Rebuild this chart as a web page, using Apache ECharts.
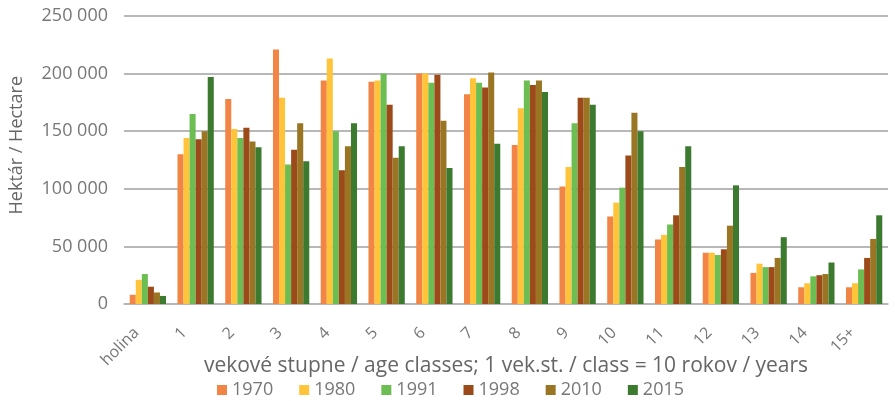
<!DOCTYPE html>
<html><head><meta charset="utf-8">
<script src="https://cdn.jsdelivr.net/npm/echarts@6/dist/echarts.min.js"></script>
<style>html,body{margin:0;padding:0;background:#fff}#c{width:895px;height:401px}</style>
</head><body><div id="c"></div>
<script>
const categories = ['holina','1','2','3','4','5','6','7','8','9','10','11','12','13','14','15+'];
const yTicks = [0, 50000, 100000, 150000, 200000, 250000];
const s1970 = [8000,130000,178000,221000,194000,193000,200000,182000,138000,102000,76000,56000,44500,27000,14500,14500];
const s1980 = [21000,144000,152000,179000,213000,194000,200000,196000,170000,119000,88000,60000,44500,35000,18000,18000];
const s1991 = [26000,165000,144000,121000,150000,200000,192000,192000,194000,157000,101000,69000,42500,32000,24000,30000];
const s1998 = [15000,143000,153000,134000,116000,173000,199000,188000,190000,179000,129000,77000,47500,32000,25000,40000];
const s2010 = [10000,150000,141000,157000,137000,127000,159000,201000,194000,179000,166000,119000,68000,40000,26000,56500];
const s2015 = [7000,197000,136000,124000,157000,137000,118000,139000,184000,173000,150000,137000,103000,58000,36000,77000];
const seriesNames = ['1970','1980','1991','1998','2010','2015'];
const seriesData = [s1970,s1980,s1991,s1998,s2010,s2015];
const colors = ['#F28445','#FFC43A','#6DBE52','#9C4A1A','#9A7624','#3B7A2F'];

const chart = echarts.init(document.getElementById('c'));
chart.setOption({
  animation:false,
  color: colors,
  grid:{left:124,right:7,top:16,bottom:97},
  legend:{
    data: seriesNames, top: 376, left: 212, itemWidth:10, itemHeight:10, itemGap:26, itemTextGap:10,
    icon:'rect', textStyle:{fontSize:18,color:'#777',fontFamily:'Open Sans'}
  },
  graphic:[{
    type:'text', left:8, top:76, rotation:Math.PI/2,
    style:{text:'Hektár / Hectare', fontSize:18, fill:'#666', fontFamily:'Open Sans'}
  }],
  xAxis:{
    type:'category', data:categories,
    axisLine:{lineStyle:{color:'#b5b5b5',width:1.5}},
    axisTick:{show:false},
    axisLabel:{rotate:45,fontSize:16,color:'#777',fontFamily:'Open Sans',margin:15,interval:0,padding:[0,16,0,0]},
    name:'vekové stupne / age classes; 1 vek.st. / class = 10 rokov / years',
    nameLocation:'middle', nameGap:52, nameMoveOverlap:false,
    nameTextStyle:{fontSize:21,color:'#666',fontFamily:'Open Sans'}
  },
  yAxis:{
    type:'value', min:yTicks[0], max:yTicks[yTicks.length-1], interval:50000,
    axisLine:{show:false}, axisTick:{show:false},
    splitLine:{lineStyle:{color:'#a0a0a0',width:1.5}},
    axisLabel:{fontSize:18,color:'#777',fontFamily:'Open Sans',margin:16,
      formatter:v=>v===0?'0':String(v).replace(/\B(?=(\d{3})+(?!\d))/g,' ')}
  },
  series: seriesNames.map((n,i)=>({
    name:n, type:'bar', data:seriesData[i], barGap:'0%', barCategoryGap:'24%'
  }))
});
</script></body></html>
